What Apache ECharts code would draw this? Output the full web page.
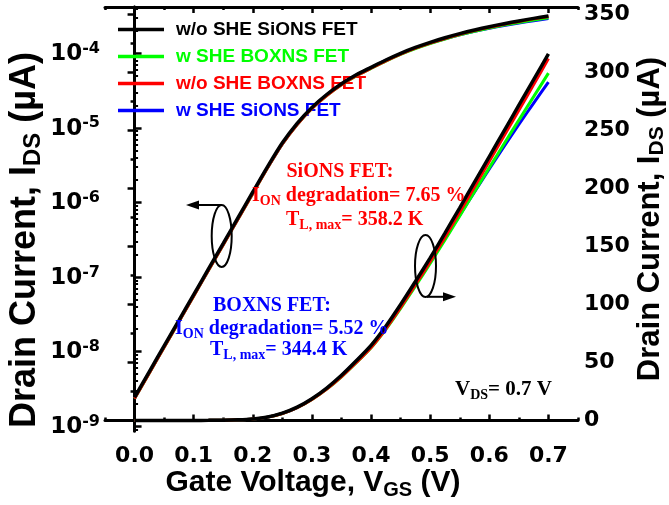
<!DOCTYPE html>
<html><head><meta charset="utf-8">
<script src="https://cdn.jsdelivr.net/npm/echarts@6/dist/echarts.min.js"></script>
<style>html,body{margin:0;padding:0;background:#fff}#c{width:669px;height:505px}</style>
</head><body><div id="c"></div>
<script>
// Gate voltage (V)
const vgs = [0,0.025,0.05,0.075,0.1,0.125,0.15,0.175,0.2,0.225,0.25,0.275,0.3,0.325,0.35,0.375,0.4,0.425,0.45,0.475,0.5,0.525,0.55,0.575,0.6,0.625,0.65,0.675,0.7];
// Drain current (uA)
const idsWoSheSiONS = [0.00243,0.00537,0.0119,0.0262,0.0579,0.128,0.282,0.624,1.38,3.02,6.3,11.5,18.8,28,39,51.5,64.8,81.3,100,119.8,140.2,161.5,183.4,205.5,227.6,249.7,271.8,293.9,316];
const idsWSheBOXNS = [0.00233,0.00516,0.0114,0.0252,0.0556,0.123,0.271,0.599,1.32,2.91,6.08,11.1,18.18,27.06,37.7,49.8,62.7,78.6,96.7,115.8,135.4,155.7,176.4,197.3,218.0,238.6,259.0,279.2,299.5];
const idsWoSheBOXNS = [0.00233,0.00516,0.0114,0.0252,0.0556,0.123,0.271,0.599,1.32,2.91,6.08,11.1,18.2,27.1,37.8,50.0,63.0,79.1,97.5,117.0,137.1,158.1,179.7,201.6,223.5,245.5,267.5,289.6,312];
const idsWSheSiONS = [0.00236,0.00521,0.01154,0.0254,0.0562,0.124,0.274,0.605,1.34,2.93,6.11,11.15,18.5,27.7,38.8,51.2,64.2,80.3,98.4,117.4,136.8,156.8,177.0,197.1,216.9,236.2,255.2,273.7,291.8];
// tick values
const xMajor = [0,0.1,0.2,0.3,0.4,0.5,0.6,0.7];
const xMinor = [-0.05,0.05,0.15,0.25,0.35,0.45,0.55,0.65,0.75];
const logMajor = [-9,-8,-7,-6,-5,-4];
const linMajor = [0,50,100,150,200,250,300,350];
const linMinor = [25,75,125,175,225,275,325];

const seriesDefs = [
  {name:'w SHE SiONS FET', data:idsWSheSiONS, color:'#0000ff', w:3},
  {name:'w SHE BOXNS FET', data:idsWSheBOXNS, color:'#00ff00', w:3},
  {name:'w/o SHE BOXNS FET', data:idsWoSheBOXNS, color:'#ff0000', w:3},
  {name:'w/o SHE SiONS FET', data:idsWoSheSiONS, color:'#000000', w:3.5}
];
const logMinor = [];
for (let d=-10; d<=-4; d++) for (let k=2;k<=9;k++) logMinor.push(d+Math.log10(k));

const X0=105, X1=578, Y0=7, Y1=431;
const LOGMIN=-9.067, LOGMAX=-3.379, LINMIN=-9.05, LINMAX=356.5, XMIN=-0.05, XMAX=0.75;
const tickFont = {fontFamily:'DejaVu Sans', fontWeight:'bold', fontSize:22, color:'#000'};
const axLine = {show:true, lineStyle:{color:'#000', width:3}};

function xAx(pos, vals, len, labels){
  return {type:'value', position:pos, min:XMIN, max:XMAX, gridIndex:0,
    axisLine: labels?axLine:{show:false}, splitLine:{show:false},
    axisTick:{show:true, inside:true, length:len, customValues:vals, lineStyle:{width:2.5,color:'#000'}},
    axisLabel: labels?Object.assign({show:true, margin:14, customValues:xMajor, formatter:v=>v.toFixed(1)}, tickFont):{show:false}};
}
const xAxes = [
  xAx('bottom', xMajor, 6, true),
  xAx('bottom', xMinor, 3, false),
  Object.assign(xAx('top', xMajor, 6, false), {axisLine:axLine}),
  xAx('top', xMinor, 3, false)
];
const yAxes = [
  {type:'value', position:'left', min:LOGMIN, max:LOGMAX, axisLine:axLine, splitLine:{show:false},
   axisTick:{show:true, inside:true, length:7, customValues:logMajor, lineStyle:{width:2.5,color:'#000'}},
   axisLabel:{show:true, margin:5, customValues:logMajor, formatter:v=>'{b|10}{s|'+v+'}',
     rich:{b:{fontFamily:'DejaVu Sans',fontWeight:'bold',fontSize:23,lineHeight:25,verticalAlign:'bottom',color:'#000'},
           s:{fontFamily:'DejaVu Sans',fontWeight:'bold',fontSize:16,lineHeight:11,verticalAlign:'top',color:'#000'}}}},
  {type:'value', position:'right', min:LINMIN, max:LINMAX, axisLine:axLine, splitLine:{show:false},
   axisTick:{show:true, inside:true, length:7, customValues:linMajor, lineStyle:{width:2.5,color:'#000'}},
   axisLabel:Object.assign({show:true, margin:6, customValues:linMajor}, tickFont)},
  {type:'value', position:'left', min:LOGMIN, max:LOGMAX, axisLine:{show:false}, splitLine:{show:false},
   axisTick:{show:true, inside:true, length:3.5, customValues:logMinor.filter(v=>v>LOGMIN&&v<LOGMAX), lineStyle:{width:2,color:'#000'}},
   axisLabel:{show:false}},
  {type:'value', position:'right', min:LINMIN, max:LINMAX, axisLine:{show:false}, splitLine:{show:false},
   axisTick:{show:true, inside:true, length:4, customValues:linMinor, lineStyle:{width:2.5,color:'#000'}},
   axisLabel:{show:false}}
];

const series = [];
seriesDefs.forEach((s,i)=>{
  series.push({name:s.name, type:'line', xAxisIndex:0, yAxisIndex:0, showSymbol:false, smooth:0.25, z:10+i,
    lineStyle:{color:s.color,width:s.w}, itemStyle:{color:s.color},
    data: vgs.map((v,j)=>[v, Math.log10(s.data[j]*1e-6)])});
  series.push({name:s.name, type:'line', xAxisIndex:0, yAxisIndex:1, showSymbol:false, smooth:0.25, z:10+i,
    lineStyle:{color:s.color,width:s.w}, itemStyle:{color:s.color},
    data: vgs.map((v,j)=>[v, s.data[j]])});
});

const serifRed = {fontFamily:'Liberation Serif', fontWeight:'bold', fontSize:20, fill:'#ff0000'};
const serifBlue = Object.assign({}, serifRed, {fill:'#0000ff'});
const serifBlack = Object.assign({}, serifRed, {fill:'#000', fontSize:21});
function subRich(base){
  return {t:Object.assign({},base,{lineHeight:base.fontSize+2, verticalAlign:'top'}),
          s:Object.assign({},base,{fontSize:Math.round(base.fontSize*0.68), lineHeight:Math.round(base.fontSize*0.45), verticalAlign:'bottom'})};
}
function txt(x,y,text,base,align){
  return {type:'text', x:x, y:y, z:50, style:{text:text, align:align||'left', verticalAlign:'middle', rich:subRich(base)}};
}
const titleX = {fontFamily:'Liberation Sans', fontWeight:'bold', fontSize:30, fill:'#000'};
const titleYL = Object.assign({}, titleX, {fontSize:36});
const titleYR = Object.assign({}, titleX, {fontSize:31});

const graphic = [
  txt(313, 484, '{t|Gate Voltage, V}{s|GS}{t| (V)}', titleX, 'center'),
  Object.assign(txt(0,0,'{t|Drain Current, I}{s|DS}{t| (µA)}', titleYL, 'center'), {x:26, y:240, rotation:Math.PI/2}),
  Object.assign(txt(0,0,'{t|Drain Current, I}{s|DS}{t| (µA)}', titleYR, 'center'), {x:651, y:219, rotation:Math.PI/2}),
  txt(286.5, 173, '{t|SiONS FET:}', serifRed),
  txt(252, 197, '{t|I}{s|ON}{t| degradation= 7.65 %}', serifRed),
  txt(286, 221, '{t|T}{s|L, max}{t|= 358.2 K}', serifRed),
  txt(213, 307, '{t|BOXNS FET:}', serifBlue),
  txt(175, 330, '{t|I}{s|ON}{t| degradation= 5.52 %}', serifBlue),
  txt(210, 351, '{t|T}{s|L, max}{t|= 344.4 K}', serifBlue),
  txt(455, 391, '{t|V}{s|DS}{t|= 0.7 V}', serifBlack),
  {type:'ellipse', z:50, shape:{cx:221.7, cy:236, rx:10, ry:31}, style:{fill:'none', stroke:'#000', lineWidth:2}},
  {type:'polyline', z:50, shape:{points:[[221.7,205],[196,205]]}, style:{stroke:'#000', lineWidth:2}},
  {type:'polygon', z:50, shape:{points:[[186,205],[199,200.5],[199,209.5]]}, style:{fill:'#000'}},
  {type:'ellipse', z:50, shape:{cx:425.5, cy:266, rx:10.5, ry:31}, style:{fill:'none', stroke:'#000', lineWidth:2}},
  {type:'polyline', z:50, shape:{points:[[427,296.8],[446,296.8]]}, style:{stroke:'#000', lineWidth:2}},
  {type:'polygon', z:50, shape:{points:[[456,296.8],[443,292.3],[443,301.3]]}, style:{fill:'#000'}}
];

const legendOrder = [['w/o SHE SiONS FET','#000000'],['w SHE BOXNS FET','#00ff00'],['w/o SHE BOXNS FET','#ff0000'],['w SHE SiONS FET','#0000ff']];

const chart = echarts.init(document.getElementById('c'), null, {renderer:'canvas'});
chart.setOption({
  animation:false,
  backgroundColor:'#fff',
  grid:{left:X0, right:669-X1, top:Y0, bottom:505-Y1, containLabel:false},
  xAxis:xAxes, yAxis:yAxes, series:series,
  legend:{orient:'vertical', left:113, top:15, itemWidth:46, itemHeight:3.5, itemGap:8, icon:'rect', selectedMode:false,
    data: legendOrder.map(([n,c])=>({name:n, textStyle:{color:c}})),
    textStyle:{fontFamily:'Liberation Sans', fontWeight:'bold', fontSize:19, padding:[0,0,0,7]}},
  graphic:graphic
});
</script></body></html>
